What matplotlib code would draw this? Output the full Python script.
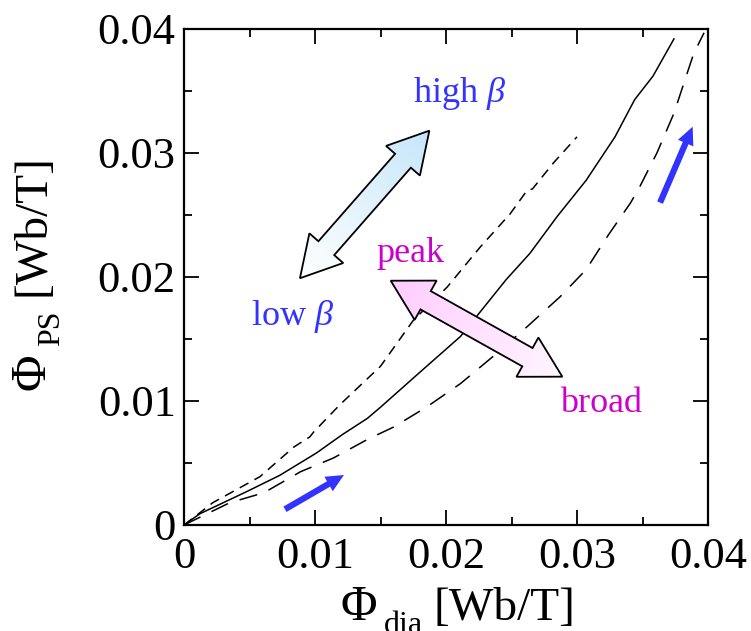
import numpy as np
import matplotlib
matplotlib.use("Agg")
import matplotlib.pyplot as plt
from matplotlib.patches import Polygon
from matplotlib.ticker import MultipleLocator, FuncFormatter

plt.rcParams["font.family"] = ["Liberation Serif", "DejaVu Serif"]
plt.rcParams["mathtext.fontset"] = "custom"
plt.rcParams["mathtext.rm"] = "Liberation Serif"
plt.rcParams["mathtext.it"] = "Liberation Serif:italic"
plt.rcParams["mathtext.bf"] = "Liberation Serif:bold"

# Phi_dia vs Phi_PS curves (Wb/T)
solid_x = [0, 0.0012, 0.0048, 0.0073, 0.0101, 0.0121, 0.0140, 0.0150, 0.0182,
           0.0211, 0.0246, 0.0264, 0.0285, 0.0307, 0.0329, 0.0344, 0.0358, 0.0374]
solid_y = [0, 0.0009, 0.0027, 0.0040, 0.0058, 0.0073, 0.0086, 0.0095, 0.0125,
           0.0152, 0.0198, 0.0219, 0.0249, 0.0278, 0.0313, 0.0343, 0.0362, 0.0392]

short_x = [0, 0.0022, 0.0058, 0.0084, 0.0096, 0.0099, 0.0119, 0.0150, 0.0175,
           0.0201, 0.0226, 0.0249, 0.0262, 0.0266, 0.0282, 0.0300]
short_y = [0, 0.0018, 0.0039, 0.0063, 0.0071, 0.0075, 0.0097, 0.0128, 0.0165,
           0.0192, 0.0224, 0.0251, 0.0270, 0.0271, 0.0292, 0.0313]

long_x = [0, 0.0035, 0.0061, 0.0089, 0.0114, 0.0140, 0.0160, 0.0185, 0.0211,
          0.0236, 0.0262, 0.0287, 0.0307, 0.0324, 0.0341, 0.0348, 0.0361,
          0.0374, 0.0389, 0.0397]
long_y = [0, 0.0018, 0.0026, 0.0043, 0.0054, 0.0069, 0.0079, 0.0095, 0.0114,
          0.0136, 0.0160, 0.0184, 0.0206, 0.0234, 0.0260, 0.0273, 0.0300,
          0.0332, 0.0380, 0.0397]

# annotation arrows (data coords): [end A, end B]
beta_arrow = [(0.00885, 0.0199), (0.01873, 0.0318)]
profile_arrow = [(0.01578, 0.0197), (0.02888, 0.01196)]
small_arrows = [[(0.00771, 0.00127), (0.01221, 0.00403)],
                [(0.03634, 0.0260), (0.03883, 0.03212)]]

labels = ["high $\\beta$", "low $\\beta$", "peak", "broad"]
label_pos = [(0.0210, 0.0348), (0.0083, 0.0168), (0.0173, 0.0219), (0.0318, 0.0098)]
label_col = ["#3333ff", "#3333ff", "#cc00cc", "#cc00cc"]

W, H = 751, 631
fig = plt.figure(figsize=(W / 100, H / 100), dpi=100)
ax = fig.add_axes([184 / W, 1 - 525 / H, 524 / W, 496 / H])

ax.plot(solid_x, solid_y, color="black", lw=1.1, zorder=2)
ax.plot(short_x, short_y, color="black", lw=1.1, ls=(0, (6.5, 4.5)), zorder=2)
ax.plot(long_x, long_y, color="black", lw=1.1, ls=(0, (12, 8)), zorder=2)

ax.set_xlim(0, 0.04)
ax.set_ylim(0, 0.04)


def double_arrow(ax, p0, p1, w, hw, hl, c0, c1):
    # geometry in pixels, converted back to data coords
    tr = ax.transData
    a = tr.transform(p0)
    b = tr.transform(p1)
    d = b - a
    L = np.hypot(*d)
    u = d / L
    n = np.array([-u[1], u[0]])
    v = [a,
         a + hl * u + hw / 2 * n,
         a + hl * u + w / 2 * n,
         b - hl * u + w / 2 * n,
         b - hl * u + hw / 2 * n,
         b,
         b - hl * u - hw / 2 * n,
         b - hl * u - w / 2 * n,
         a + hl * u - w / 2 * n,
         a + hl * u - hw / 2 * n]
    vd = tr.inverted().transform(np.array(v))
    patch = Polygon(vd, closed=True, facecolor="none", edgecolor="black",
                    lw=1.3, zorder=5, joinstyle="miter")
    ax.add_patch(patch)
    x0, y0 = vd.min(axis=0)
    x1, y1 = vd.max(axis=0)
    gx, gy = np.meshgrid(np.linspace(x0, x1, 120), np.linspace(y0, y1, 120))
    pts = tr.transform(np.column_stack([gx.ravel(), gy.ravel()]))
    t = np.clip(((pts - a) @ u) / L, 0, 1).reshape(gx.shape)
    c0 = np.array(matplotlib.colors.to_rgb(c0))
    c1 = np.array(matplotlib.colors.to_rgb(c1))
    img = c0[None, None, :] * (1 - t[..., None]) + c1[None, None, :] * t[..., None]
    im = ax.imshow(img, extent=[x0, x1, y0, y1], origin="lower",
                   aspect="auto", zorder=4, interpolation="bilinear")
    im.set_clip_path(patch)


double_arrow(ax, beta_arrow[0], beta_arrow[1], 21, 45, 40, "#ffffff", "#c6e6fa")
double_arrow(ax, profile_arrow[0], profile_arrow[1], 21, 45, 40, "#ffccff", "#fff6ff")

for tail, tip in small_arrows:
    ax.annotate("", xy=tip, xytext=tail,
                arrowprops=dict(arrowstyle="simple,head_length=0.8,head_width=0.75,tail_width=0.28",
                                mutation_scale=16, color="#3333ff", lw=0,
                                shrinkA=0, shrinkB=0), zorder=6)

for txt, (lx, ly), c in zip(labels, label_pos, label_col):
    ax.text(lx, ly, txt, color=c, fontsize=26, ha="center", va="center", zorder=7)

ax.set_xlim(0, 0.04)
ax.set_ylim(0, 0.04)

ax.xaxis.set_major_locator(MultipleLocator(0.01))
ax.yaxis.set_major_locator(MultipleLocator(0.01))
ax.xaxis.set_minor_locator(MultipleLocator(0.005))
ax.yaxis.set_minor_locator(MultipleLocator(0.005))
fmt = FuncFormatter(lambda v, p: "0" if abs(v) < 1e-9 else f"{v:.2f}")
ax.xaxis.set_major_formatter(fmt)
ax.yaxis.set_major_formatter(fmt)
ax.tick_params(which="both", direction="in", top=True, right=True, width=1.3)
ax.tick_params(which="major", length=11, labelsize=32)
ax.tick_params(which="minor", length=6)
ax.tick_params(axis="x", which="major", pad=9)
ax.tick_params(axis="y", which="major", pad=6)
for s in ax.spines.values():
    s.set_linewidth(1.6)

# axis labels built from pieces so the subscript sits low, as in the original
# (text, fontsize, start along the label, offset below baseline), in pixels
xlab_parts = [("\u03a6", 36, 0, 0), ("dia", 23, 44, 13), ("[Wb/T]", 34, 94, 0)]
xb, yb = 340, H - 620   # baseline start of the x label
for txt, fs, s, drop in xlab_parts:
    fig.text((xb + s) / W, (yb - drop) / H, txt, fontsize=fs,
             ha="left", va="baseline")

ylab_parts = [("\u03a6", 36, 0, 0), ("PS", 23, 44, 15), ("[Wb/T]", 34, 94, 0)]
xb, yb = 44, H - 390    # baseline start of the y label (rotated)
for txt, fs, s, drop in ylab_parts:
    fig.text((xb + drop) / W, (yb + s) / H, txt, fontsize=fs, rotation=90,
             rotation_mode="anchor", ha="left", va="baseline")

fig.savefig("out.png", dpi=100)
